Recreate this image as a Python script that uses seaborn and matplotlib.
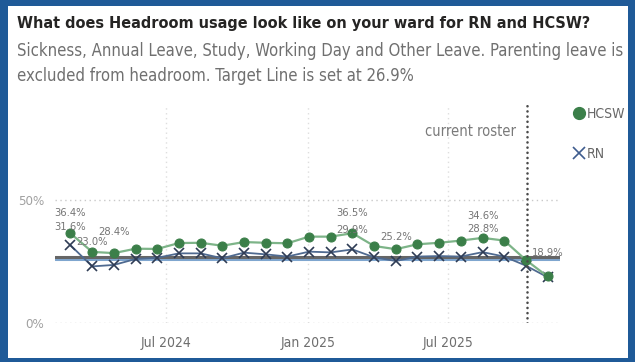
import matplotlib
matplotlib.use("Agg")
import matplotlib.pyplot as plt
import matplotlib.dates as mdates
import matplotlib.patheffects as pe
from matplotlib.patches import Rectangle
from matplotlib.lines import Line2D
import pandas as pd
import seaborn as sns

# ---- data -------------------------------------------------------------
periods = ["2024-02-29", "2024-03-28", "2024-04-25", "2024-05-23", "2024-06-20",
           "2024-07-18", "2024-08-15", "2024-09-12", "2024-10-10", "2024-11-07",
           "2024-12-05", "2025-01-02", "2025-01-30", "2025-02-27", "2025-03-27",
           "2025-04-24", "2025-05-22", "2025-06-19", "2025-07-17", "2025-08-14",
           "2025-09-11", "2025-10-09", "2025-11-06"]
hcsw = [36.4, 28.9, 28.4, 30.2, 30.1, 32.5, 32.6, 31.4, 32.9, 32.6, 32.4, 35.1,
        35.1, 36.5, 31.3, 30.0, 32.0, 32.6, 33.5, 34.6, 33.5, 25.6, 18.9]
rn = [31.6, 23.0, 23.6, 26.0, 26.5, 28.3, 28.3, 26.3, 28.6, 27.9, 27.0, 29.0,
      28.7, 29.9, 26.7, 25.2, 27.0, 27.2, 27.0, 28.8, 27.0, 23.3, 18.6]
hcsw_labelled = [0, 2, 13, 19, 22]
rn_labelled = [0, 1, 13, 15, 19]
target = 26.9
current_roster = "2025-10-10"
y_ticks = [0, 50]
y_tick_labels = ["0%", "50%"]

title = "What does Headroom usage look like on your ward for RN and HCSW?"
subtitle_1 = "Sickness, Annual Leave, Study, Working Day and Other Leave. Parenting leave is"
subtitle_2 = "excluded from headroom. Target Line is set at 26.9%"

# ---- style ------------------------------------------------------------
sns.set_theme(style="white")
plt.rcParams["font.family"] = ["DejaVu Sans"]
plt.rcParams["font.stretch"] = "condensed"

GREEN_M = "#3B7F49"
GREEN_L = "#7DB488"
BLUE_M = "#2F3C55"
BLUE_L = "#4F6A90"
GREY_TXT = "#757575"

df = pd.DataFrame({"period": pd.to_datetime(periods), "HCSW": hcsw, "RN": rn})

W, H = 635, 362
fig = plt.figure(figsize=(W / 100, H / 100), dpi=100)
fig.patch.set_facecolor("#1F5A98")
fig.patches.append(Rectangle((8 / W, 4 / H), 620 / W, (H - 10) / H,
                             transform=fig.transFigure, facecolor="white",
                             edgecolor="none", zorder=-5))

ax = fig.add_axes([55 / W, (H - 323) / H, 505 / W, 218 / H])
ax.set_facecolor("white")

# target reference line (grey with a blue under-stroke)
ax.axhline(target, color="#666666", lw=2.2, zorder=2,
           path_effects=[pe.SimpleLineShadow(offset=(0, -1.7), shadow_color="#7FA6CF", alpha=1.0),
                         pe.Normal()])

sns.lineplot(data=df, x="period", y="RN", ax=ax, color=BLUE_L, lw=1.3,
             marker="x", markersize=7, markeredgecolor=BLUE_M, markeredgewidth=1.2,
             zorder=3)
sns.lineplot(data=df, x="period", y="HCSW", ax=ax, color=GREEN_L, lw=1.6,
             marker="o", markersize=6.5, markerfacecolor=GREEN_M,
             markeredgecolor=GREEN_M, zorder=4)

# current roster marker
roster_x = pd.Timestamp(current_roster)
ax.axvline(roster_x, color="#4A4A4A", lw=1.9, linestyle=(0, (0.01, 1.95)),
           dash_capstyle="round", zorder=5)
ax.annotate("current roster", xy=(roster_x, 0.8775), xycoords=("data", "axes fraction"),
            xytext=(-8, 0), textcoords="offset points", ha="right", va="center",
            fontsize=10.5, color="#7A7A7A")

# data labels (vertical offsets in points above each marker)
dates = df["period"]
hcsw_label_dy = [15.0, 15.5, 14.5, 16.0, 17.0]
rn_label_dy = [13.0, 17.5, 14.0, 17.0, 17.0]
for i, dy in zip(hcsw_labelled, hcsw_label_dy):
    ax.annotate(f"{hcsw[i]:.1f}%", (dates[i], hcsw[i]), xytext=(0, dy),
                textcoords="offset points", ha="center", va="center",
                fontsize=8, color=GREY_TXT, zorder=6)
for i, dy in zip(rn_labelled, rn_label_dy):
    ax.annotate(f"{rn[i]:.1f}%", (dates[i], rn[i]), xytext=(0, dy),
                textcoords="offset points", ha="center", va="center",
                fontsize=8, color=GREY_TXT, zorder=6)

# axes
ax.set_ylim(0, 88.6)
ax.set_xlim(pd.Timestamp("2024-02-09"), pd.Timestamp("2025-11-22"))
ax.set_yticks(y_ticks)
ax.set_yticklabels(y_tick_labels)
ax.xaxis.set_major_locator(mdates.MonthLocator(bymonth=[1, 7]))
ax.xaxis.set_major_formatter(mdates.DateFormatter("%b %Y"))
ax.set_xlabel("")
ax.set_ylabel("")
ax.grid(axis="y", color="#C9C9C9", lw=1.0, linestyle=(0, (1, 2.5)))
ax.grid(axis="x", color="#DEDEDE", lw=1.0, linestyle=(0, (1, 2.5)))
sns.despine(ax=ax, left=True, bottom=True)
ax.tick_params(axis="x", length=0, pad=9, labelsize=10, labelcolor="#6E6E6E")
ax.tick_params(axis="y", length=0, pad=8, labelsize=9.5, labelcolor="#A0A0A0")

# legend
handles = [Line2D([], [], ls="none", marker="o", ms=8.5, mfc=GREEN_M, mec=GREEN_M),
           Line2D([], [], ls="none", marker="x", ms=9, mec="#3E5C8E", mew=1.2)]
fig.legend(handles, ["HCSW", "RN"], loc="upper left", bbox_to_anchor=(573 / W, 1 - 107 / H),
           frameon=False, fontsize=10, labelcolor="#666666", handlelength=0.8,
           handletextpad=0.2, labelspacing=1.85, borderpad=0, borderaxespad=0)

# titles, sized to their line widths
renderer = fig.canvas.get_renderer()


def fit(txt, width_px):
    w = txt.get_window_extent(renderer).width
    txt.set_fontsize(txt.get_fontsize() * width_px / w)


t = fig.text(17 / W, 1 - 23.5 / H, title, ha="left", va="center", fontsize=14,
             weight="bold", color="#252423")
fit(t, 576)
s1 = fig.text(17 / W, 1 - 51 / H, subtitle_1, ha="left", va="center", fontsize=13,
              color="#707070")
fit(s1, 605)
s2 = fig.text(17 / W, 1 - 76 / H, subtitle_2, ha="left", va="center",
              fontsize=s1.get_fontsize(), color="#707070")

fig.savefig("out.png", dpi=100, facecolor=fig.get_facecolor())
